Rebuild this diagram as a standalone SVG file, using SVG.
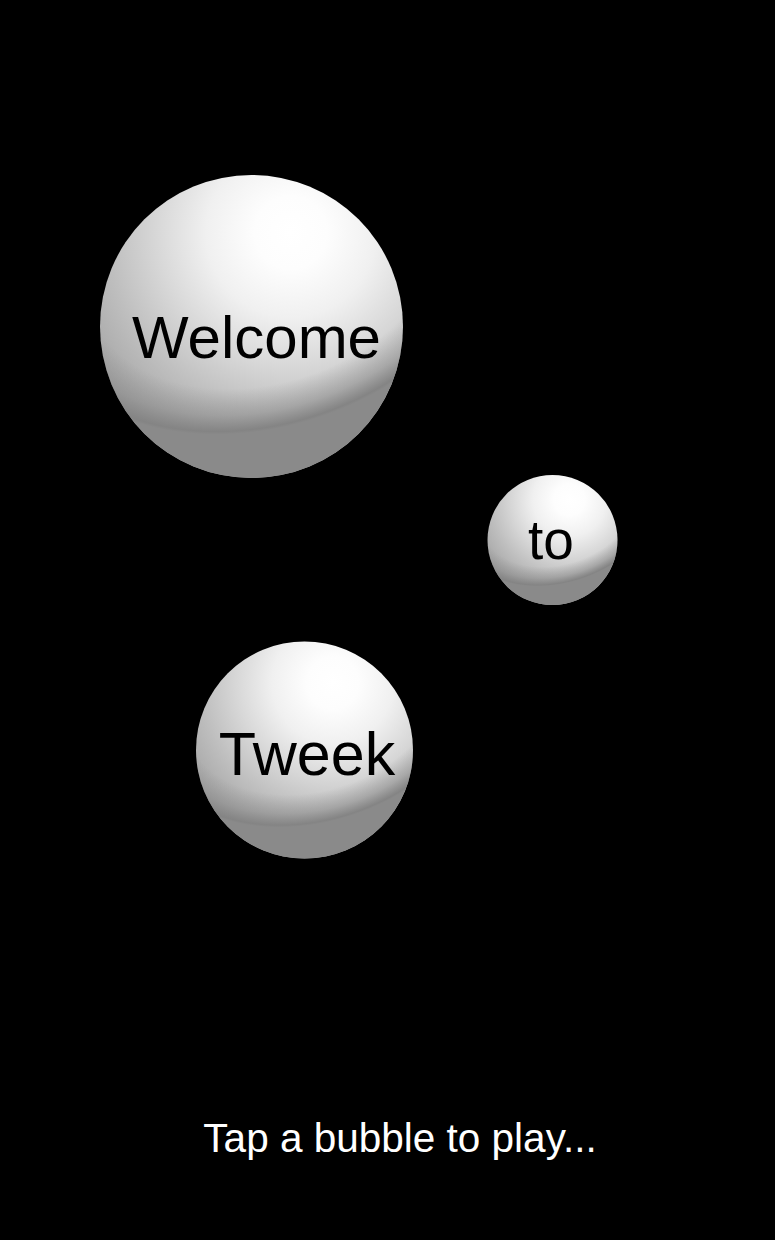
<svg xmlns="http://www.w3.org/2000/svg" width="775" height="1240" viewBox="0 0 775 1240">
<defs>
<radialGradient id="sphere" cx="0.63" cy="0.19" r="0.8" fx="0.63" fy="0.19">
<stop offset="0" stop-color="#ffffff"/>
<stop offset="0.15" stop-color="#fdfdfd"/>
<stop offset="0.35" stop-color="#f0f0f0"/>
<stop offset="0.55" stop-color="#d8d8d8"/>
<stop offset="0.75" stop-color="#bfbfbf"/>
<stop offset="1" stop-color="#a2a2a2"/>
</radialGradient>
<radialGradient id="shade" cx="0.55" cy="0.23" r="0.595" fx="0.55" fy="0.23" gradientTransform="translate(0.55 0.23) rotate(-20) scale(1.386 1) translate(-0.55 -0.23)">
<stop offset="0.76" stop-color="#8a8a8a" stop-opacity="0"/>
<stop offset="0.9" stop-color="#878787" stop-opacity="0.5"/>
<stop offset="0.985" stop-color="#848484" stop-opacity="1"/>
<stop offset="1" stop-color="#8a8a8a" stop-opacity="1"/>
</radialGradient>
</defs>
<style>
.bubble{fill:url(#sphere)}
.shade{fill:url(#shade)}
.label{font-family:"Liberation Sans",Arial,sans-serif;fill:#000;text-anchor:middle}
.hint{font-family:"Liberation Sans",Arial,sans-serif;fill:#fff;text-anchor:middle;font-size:40.5px}
</style>
<rect width="775" height="1240" fill="#000"/>
<g id="welcome">
<circle class="bubble" cx="251.5" cy="326.5" r="151.5"/>
<circle class="shade" cx="251.5" cy="326.5" r="151.5"/>
<text class="label" x="256.5" y="358" font-size="60">Welcome</text>
</g>
<g id="to">
<circle class="bubble" cx="552.5" cy="540" r="65"/>
<circle class="shade" cx="552.5" cy="540" r="65"/>
<text class="label" x="551" y="559" font-size="55">to</text>
</g>
<g id="tweek">
<circle class="bubble" cx="304.5" cy="750" r="108.5"/>
<circle class="shade" cx="304.5" cy="750" r="108.5"/>
<text class="label" x="307" y="775" font-size="61">Tweek</text>
</g>
<g id="connectors"/>
<text class="hint" x="400" y="1152">Tap a bubble to play...</text>
</svg>
